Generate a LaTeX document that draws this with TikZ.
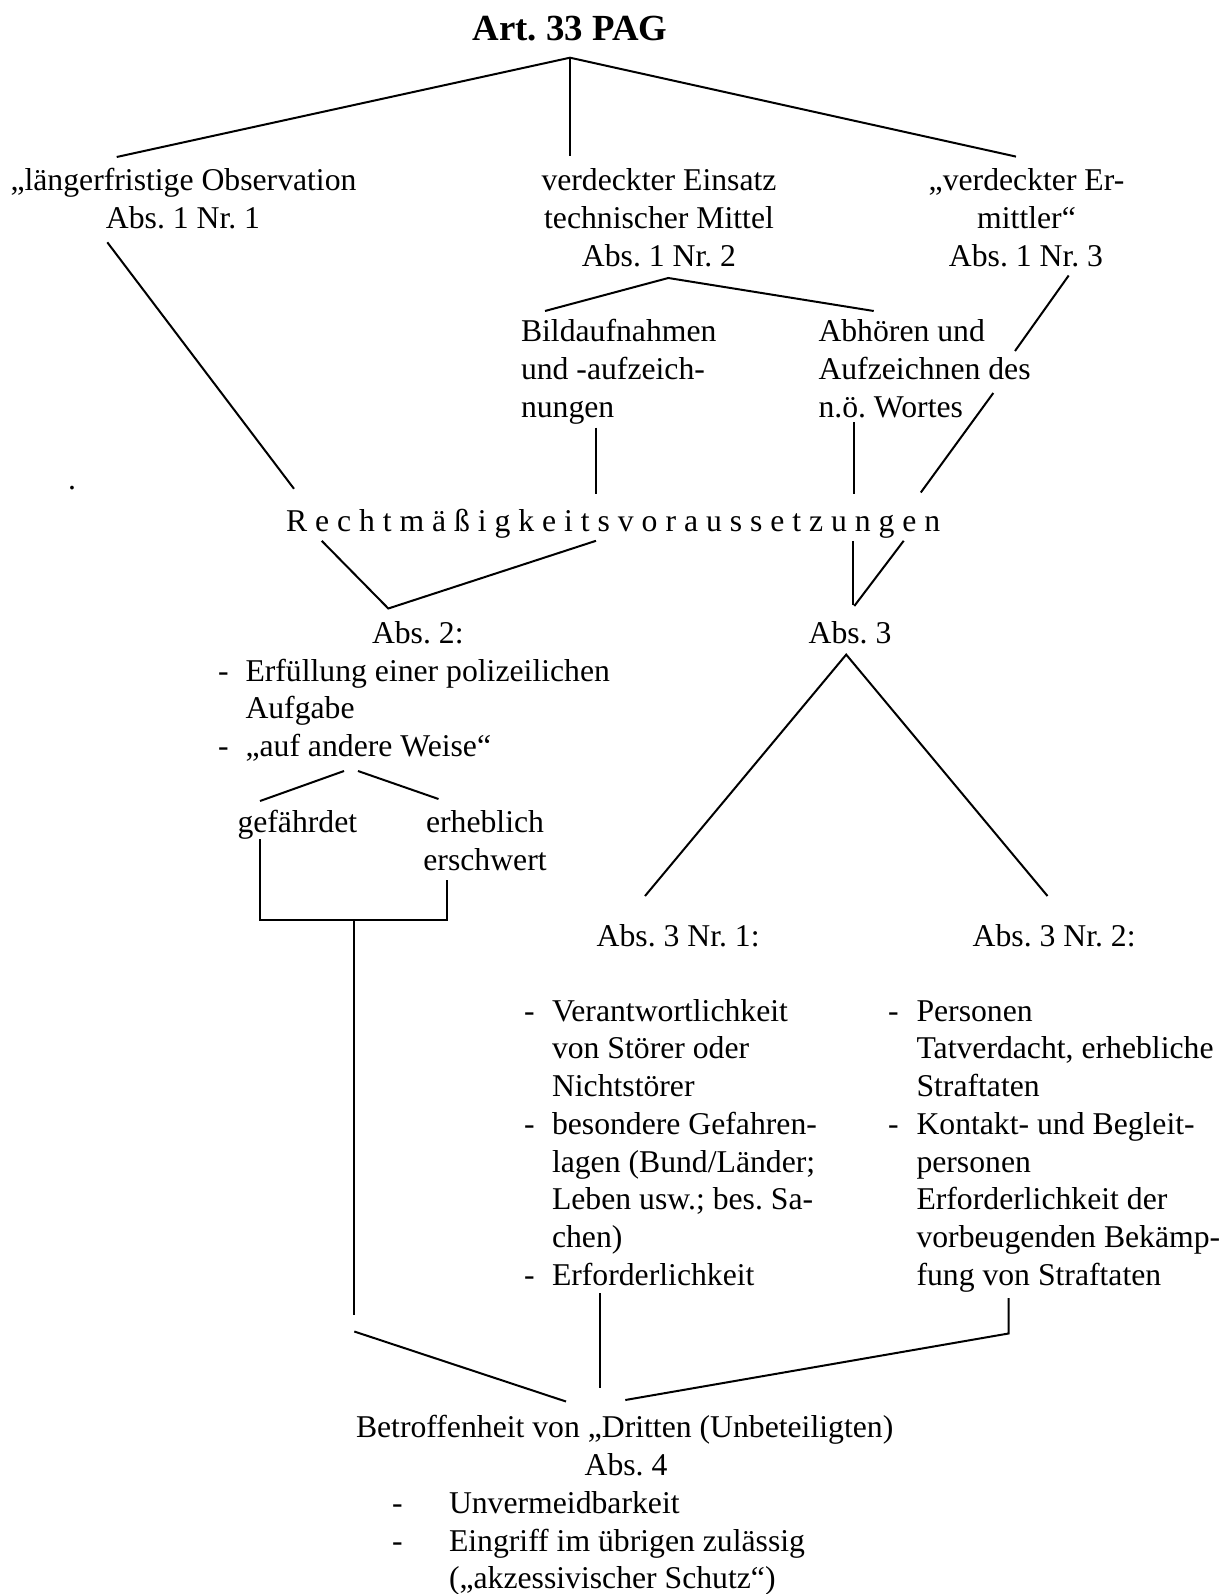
\documentclass[tikz,border=0pt]{standalone}
\usepackage{fontspec}
\setmainfont{Liberation Serif}
\newcommand{\fs}{\fontsize{15.85}{19}\selectfont}
\tikzset{
  txt/.style={inner sep=0pt, outer sep=0pt, font=\fs, anchor=base},
  txtl/.style={txt, anchor=base west},
  ln/.style={line width=1pt},
}
\frenchspacing
\begin{document}
\frenchspacing
\begin{tikzpicture}[x=0.5pt,y=-0.5pt]
\useasboundingbox (0,0) rectangle (1221,1594);
\fill[white] (0,0) rectangle (1221,1594);

% ---------- texts ----------
\node[txt, font=\fontsize{18.4}{22}\selectfont\bfseries] (title) at (570,41) {Art. 33 PAG};

\node[txt] (n1a) at (183.5,191) {„längerfristige Observation};
\node[txt] (n1b) at (183,228.5) {Abs. 1 Nr. 1};

\node[txt] (n2a) at (659,191) {verdeckter Einsatz};
\node[txt] (n2b) at (659,228.5) {technischer Mittel};
\node[txt] (n2c) at (659,266) {Abs. 1 Nr. 2};

\node[txt] (n3a) at (1026.5,191) {„verdeckter Er-};
\node[txt] (n3b) at (1026.5,228.5) {mittler“};
\node[txt] (n3c) at (1026,266) {Abs. 1 Nr. 3};

\node[txtl] (b1) at (521,341.5) {Bildaufnahmen};
\node[txtl] (b2) at (521,379.5) {und -aufzeich-};
\node[txtl] (b3) at (521,417.5) {nungen};

\node[txtl] (h1) at (818.5,341.5) {Abhören und};
\node[txtl] (h2) at (818.5,379.5) {Aufzeichnen des};
\node[txtl] (h3) at (818.5,417.5) {n.ö. Wortes};

\node[txtl] (dot) at (68,489) {.};

\node[txtl] (recht) at (286,531) {R e c h t m ä ß i g k e i t s v o r a u s s e t z u n g e n};

\node[txtl] (abs2) at (372,643) {Abs. 2:};
\node[txt] (abs3) at (850,643.5) {Abs. 3};

\node[txtl] (a2d1) at (218,681) {-};
\node[txtl] (a2l1) at (245.5,681) {Erfüllung einer polizeilichen};
\node[txtl] (a2l2) at (245.5,718.7) {Aufgabe};
\node[txtl] (a2d2) at (218,756.4) {-};
\node[txtl] (a2l3) at (245.5,756.4) {„auf andere Weise“};

\node[txtl] (gef) at (237.5,832.5) {gefährdet};
\node[txt] (erh1) at (485,832.5) {erheblich};
\node[txt] (erh2) at (485,870.5) {erschwert};

\node[txtl] (a31) at (596.7,946) {Abs. 3 Nr. 1:};
\node[txtl] (a32) at (972.7,946) {Abs. 3 Nr. 2:};

\node[txtl] (p1d1) at (524,1021) {-};
\node[txtl] (p1l1) at (552,1021) {Verantwortlichkeit};
\node[txtl] (p1l2) at (552,1058.8) {von Störer oder};
\node[txtl] (p1l3) at (552,1096.5) {Nichtstörer};
\node[txtl] (p1d2) at (524,1134.3) {-};
\node[txtl] (p1l4) at (552,1134.3) {besondere Gefahren-};
\node[txtl] (p1l5) at (552,1172) {lagen (Bund/Länder;};
\node[txtl] (p1l6) at (552,1209.8) {Leben usw.; bes. Sa-};
\node[txtl] (p1l7) at (552,1247.6) {chen)};
\node[txtl] (p1d3) at (524,1285.3) {-};
\node[txtl] (p1l8) at (552,1285.3) {Erforderlichkeit};

\node[txtl] (p2d1) at (888,1021) {-};
\node[txtl] (p2l1) at (916.5,1021) {Personen};
\node[txtl] (p2l2) at (916.5,1058.8) {Tatverdacht, erhebliche};
\node[txtl] (p2l3) at (916.5,1096.5) {Straftaten};
\node[txtl] (p2d2) at (888,1134.3) {-};
\node[txtl] (p2l4) at (916.5,1134.3) {Kontakt- und Begleit-};
\node[txtl] (p2l5) at (916.5,1172) {personen};
\node[txtl] (p2l6) at (916.5,1209.8) {Erforderlichkeit der};
\node[txtl] (p2l7) at (916.5,1247.6) {vorbeugenden Bekämp-};
\node[txtl] (p2l8) at (916.5,1285.3) {fung von Straftaten};

\node[txtl] (betr) at (356,1437.5) {Betroffenheit von „Dritten (Unbeteiligten)};
\node[txt] (abs4) at (626,1475) {Abs. 4};
\node[txtl] (a4d1) at (392,1513.4) {-};
\node[txtl] (a4l1) at (449,1513.4) {Unvermeidbarkeit};
\node[txtl] (a4d2) at (392,1551) {-};
\node[txtl] (a4l2) at (449,1551) {Eingriff im übrigen zulässig};
\node[txtl] (a4l3) at (449,1588.5) {(„akzessivischer Schutz“)};

% ---------- connector end points ----------
\coordinate (t0) at (570,57.7);
\coordinate (t1) at (116.7,157);
\coordinate (t2) at (570,155.6);
\coordinate (t3) at (1016,156.6);

\coordinate (o1) at (107.3,242.3);
\coordinate (o2) at (294,488.8);

\coordinate (m0) at (668.3,278);
\coordinate (m1) at (545,311);
\coordinate (m2) at (873.7,311);

\coordinate (v1) at (1068.7,275.5);
\coordinate (v2) at (1015,351);
\coordinate (v3) at (993.3,393);
\coordinate (v4) at (920.8,492.5);

\coordinate (bA) at (596,427.6);
\coordinate (bB) at (596,494);
\coordinate (hA) at (854.3,422.4);
\coordinate (hB) at (854.3,494);

\coordinate (r1) at (321.7,540.8);
\coordinate (r2) at (388.3,608.5);
\coordinate (r3) at (596,540.8);
\coordinate (r4) at (852.7,540.8);
\coordinate (r5) at (852.7,605);
\coordinate (r6) at (903.7,540.8);
\coordinate (r7) at (854.3,606);

\coordinate (w0a) at (344,771);
\coordinate (w1) at (260,801);
\coordinate (w0b) at (358,771);
\coordinate (w2) at (438.5,799);

\coordinate (g1) at (260,839);
\coordinate (g2) at (260,919.5);
\coordinate (g3) at (447,919.5);
\coordinate (g4) at (447,880);
\coordinate (g5) at (354.3,919.5);
\coordinate (g6) at (354.3,1315);

\coordinate (s0) at (846.2,654.6);
\coordinate (s1) at (645,896);
\coordinate (s2) at (1047.5,896);

\coordinate (e1) at (600,1293);
\coordinate (e2) at (600,1387.5);
\coordinate (f1) at (1008.5,1298);
\coordinate (f2) at (1008.5,1333.5);
\coordinate (f3) at (625.3,1400);
\coordinate (d1) at (354.3,1331.5);
\coordinate (d2) at (566,1401.5);

% ---------- connectors ----------
\draw[ln] (t1) -- (t0) -- (t3);
\draw[ln] (t0) -- (t2);
\draw[ln] (o1) -- (o2);
\draw[ln] (m1) -- (m0) -- (m2);
\draw[ln] (v1) -- (v2);
\draw[ln] (v3) -- (v4);
\draw[ln] (bA) -- (bB);
\draw[ln] (hA) -- (hB);
\draw[ln] (r1) -- (r2) -- (r3);
\draw[ln] (r4) -- (r5);
\draw[ln] (r6) -- (r7);
\draw[ln] (w0a) -- (w1);
\draw[ln] (w0b) -- (w2);
\draw[ln] (g1) -- (g2) -- (g3) -- (g4);
\draw[ln] (g5) -- (g6);
\draw[ln] (s1) -- (s0) -- (s2);
\draw[ln] (e1) -- (e2);
\draw[ln] (f1) -- (f2) -- (f3);
\draw[ln] (d1) -- (d2);
\end{tikzpicture}
\end{document}
